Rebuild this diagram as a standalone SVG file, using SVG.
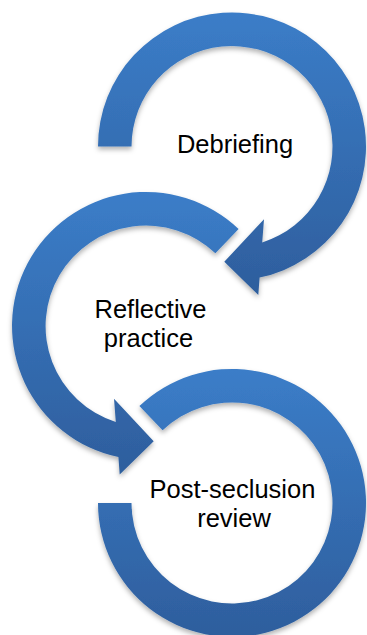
<svg xmlns="http://www.w3.org/2000/svg" width="367" height="635" viewBox="0 0 367 635">
  <defs>
    <linearGradient id="blueFill" x1="0" y1="0" x2="0" y2="1">
      <stop offset="0" stop-color="#3b7dc8"/>
      <stop offset="1" stop-color="#2e5e9d"/>
    </linearGradient>
    <filter id="softShadow" x="-10%" y="-10%" width="120%" height="125%">
      <feDropShadow dx="0" dy="3" stdDeviation="2.5" flood-color="#000" flood-opacity="0.3"/>
    </filter>
  </defs>
  <style>
    .arc { fill: url(#blueFill); filter: url(#softShadow); }
    .label { font-family: "Liberation Sans", Arial, Helvetica, sans-serif; font-size: 25.5px; fill: #000; text-anchor: middle; }
  </style>
  <rect width="367" height="635" fill="#fff"/>

  <!-- circular arrows linking the three stages -->
  <g id="connectors">
    <!-- top ring, clockwise, arrowhead pointing into the middle ring -->
    <path id="arrow-debriefing" class="arc" d="M98,146.5 A134,134 0 1 1 259.6,277.6 L258.3,295 L224.3,261.7 L264,219.3 L262.2,242.4 A100.5,100.5 0 1 0 131.5,146.5 Z"/>
    <!-- middle ring, counter-clockwise, arrowhead pointing into the bottom ring -->
    <path id="arrow-reflective" class="arc" d="M238.6,229.1 A134,134 0 1 0 118.4,457.1 L119.7,474.5 L153.7,441.2 L114,398.8 L115.8,421.9 A100.5,100.5 0 1 1 215.4,253.3 Z"/>
    <!-- bottom ring, no arrowhead -->
    <path id="arrow-review" class="arc" d="M139.4,406.1 A134,134 0 1 1 98,503 L131.5,503 A100.5,100.5 0 1 0 162.6,430.3 Z"/>
  </g>

  <g id="node-debriefing">
    <text class="label" x="235" y="153">Debriefing</text>
  </g>
  <g id="node-reflective-practice">
    <text class="label" x="150.5" y="317.5">Reflective</text>
    <text class="label" x="148.5" y="347">practice</text>
  </g>
  <g id="node-post-seclusion-review">
    <text class="label" x="232.5" y="497.5">Post-seclusion</text>
    <text class="label" x="234" y="526.5">review</text>
  </g>
</svg>
